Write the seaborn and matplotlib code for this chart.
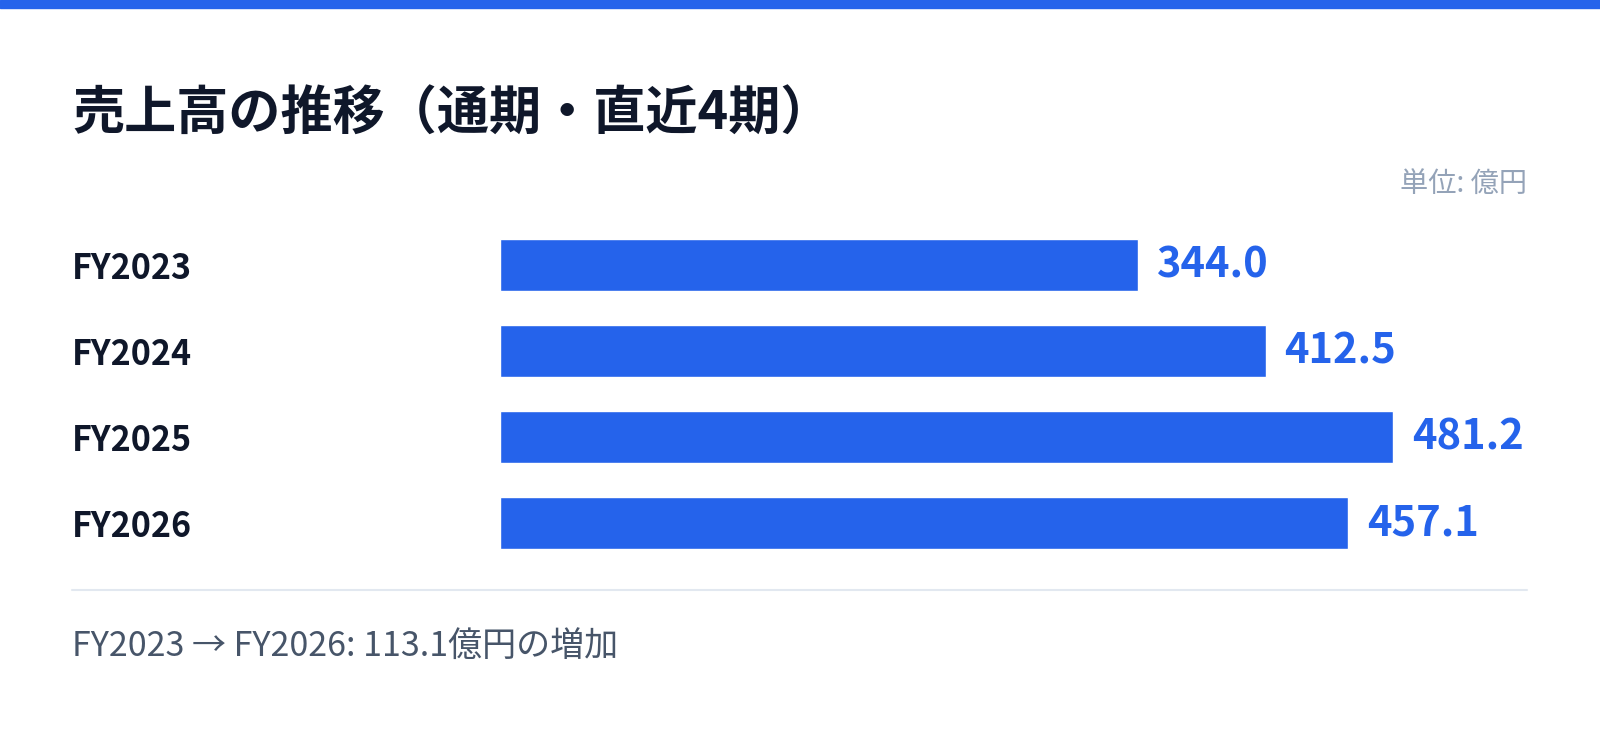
import matplotlib
matplotlib.use("Agg")
import matplotlib.pyplot as plt
import seaborn as sns
import pandas as pd
from matplotlib.patches import Rectangle
from matplotlib.lines import Line2D

categories = ["FY2023", "FY2024", "FY2025", "FY2026"]
values = [344.0, 412.5, 481.2, 457.1]
title = "売上高の推移（通期・直近4期）"
unit_label = "単位: 億円"
footer = "FY2023 → FY2026: 113.1億円の増加"

sns.set_theme(style="white")
plt.rcParams['font.family'] = ['Noto Sans CJK JP', 'DejaVu Sans']

BLUE = "#2563EB"
DARK = "#0F172A"

df = pd.DataFrame({"period": categories, "sales": values})

fig = plt.figure(figsize=(16, 7.33), dpi=100)
fig.patch.set_facecolor("white")

W, H = 1600, 733
LEFT = 72
AX_L, AX_R = 500, 1527
AX_T, AX_B = 222, 566
ax = fig.add_axes([AX_L / W, (H - AX_B) / H, (AX_R - AX_L) / W, (AX_B - AX_T) / H])
sns.barplot(data=df, y="period", x="sales", orient="h", color=BLUE,
            width=0.6, saturation=1, ax=ax)
ax.set_xlim(0, max(values) * 1.15)
ax.set_ylim(3.5, -0.5)
ax.set_xlabel("")
ax.set_ylabel("")
ax.set_xticks([])
for s in ax.spines.values():
    s.set_visible(False)
ax.tick_params(axis="y", length=0, pad=(AX_L - LEFT) * 0.72)
for lbl in ax.get_yticklabels():
    lbl.set_horizontalalignment("left")
    lbl.set_fontsize(24.5)
    lbl.set_fontweight("bold")
    lbl.set_color(DARK)

for cont in ax.containers:
    ax.bar_label(cont, fmt="%.1f", padding=13.5, color=BLUE, fontsize=30,
                 fontweight="bold")

# top strip
fig.patches.append(Rectangle((0, (H - 8) / H), 1, 8 / H, transform=fig.transFigure,
                             color=BLUE, zorder=5))
fig.text(LEFT / W, (H - 114) / H, title, fontsize=37.5, fontweight="bold",
         color=DARK, ha="left", va="center")
fig.text(AX_R / W, (H - 184) / H, unit_label, fontsize=20.3, color="#94A3B8",
         ha="right", va="center")
fig.lines.append(Line2D([LEFT / W, AX_R / W], [(H - 590) / H] * 2,
                        transform=fig.transFigure, color="#E2E8F0", lw=1.5))
fig.text(LEFT / W, (H - 646) / H, footer, fontsize=24.5, color="#475569",
         ha="left", va="center")

fig.savefig("out.png", dpi=100, facecolor="white")
